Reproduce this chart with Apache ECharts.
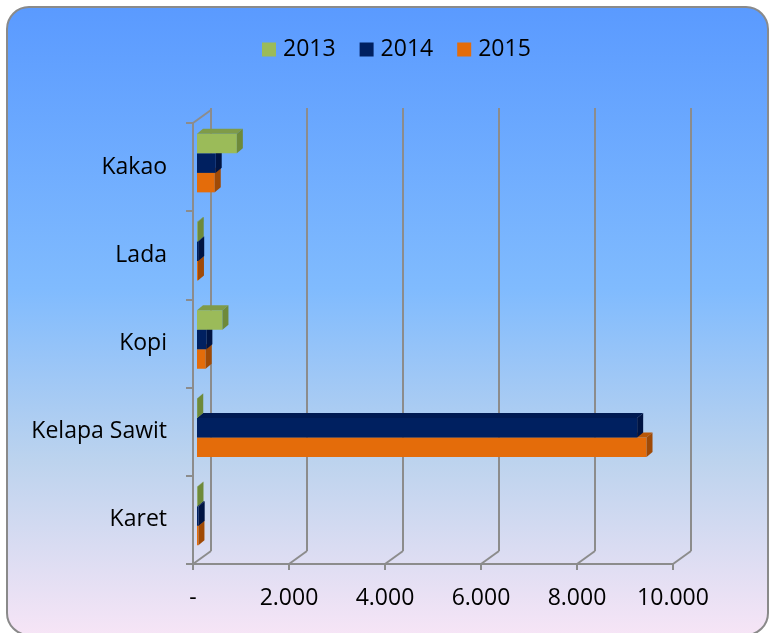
<!DOCTYPE html>
<html>
<head>
<meta charset="utf-8">
<script src="https://cdn.jsdelivr.net/npm/echarts@6/dist/echarts.min.js"></script>
<style>
html,body{margin:0;padding:0;background:#ffffff;}
#main{width:771px;height:633px;}
</style>
</head>
<body>
<div id="main"></div>
<script>
// ---- data ----
var categories = ['Kakao', 'Lada', 'Kopi', 'Kelapa Sawit', 'Karet'];
var years = ['2013', '2014', '2015'];
var values2013 = [830, 15, 530, 5, 10];
var values2014 = [390, 25, 195, 9170, 35];
var values2015 = [370, 20, 180, 9365, 30];
var xTickValues = [0, 2000, 4000, 6000, 8000, 10000];
var xTickLabels = ['-', '2.000', '4.000', '6.000', '8.000', '10.000'];

var FONT = 'Open Sans';
var FS = 23;
var GRID_COLOR = '#8c8c8c';
var WALL_DX = 18, WALL_DY = -13;   // back wall offset
var BAR_DX = 6, BAR_DY = 5;        // bar depth
var BAR_T = 19.5;                  // bar thickness
var BAR_X_OFF = 4, BAR_Y_OFF = -4;

var faceColors = [
  {front: '#9bbb59', top: '#7f9b48', side: '#6e8a3a'},
  {front: '#002060', top: '#001a52', side: '#001443'},
  {front: '#e46c0a', top: '#b85708', side: '#a04a06'}
];

var chart = echarts.init(document.getElementById('main'), null, {renderer: 'canvas'});

function wallRender(params, api) {
  var cs = params.coordSys;
  var xf = api.coord([api.value(0), 0])[0];
  var top = cs.y, bottom = cs.y + cs.height;
  var style = {stroke: GRID_COLOR, lineWidth: 2, fill: null};
  var children = [
    {type: 'line', shape: {x1: xf + WALL_DX, y1: top + WALL_DY - 2, x2: xf + WALL_DX, y2: bottom + WALL_DY}, style: style},
    {type: 'line', shape: {x1: xf, y1: bottom, x2: xf + WALL_DX, y2: bottom + WALL_DY}, style: style}
  ];
  if (api.value(0) === 0) {
    children.push({type: 'line', shape: {x1: xf, y1: top, x2: xf + WALL_DX, y2: top + WALL_DY}, style: style});
  }
  return {type: 'group', children: children};
}

function makeBarRender(si) {
  return function (params, api) {
    var v = api.value(0), c = api.value(1);
    var p0 = api.coord([0, c]);
    var p1 = api.coord([v, c]);
    var x0 = p0[0] + BAR_X_OFF;
    var x1 = p1[0] + BAR_X_OFF;
    var y0 = p0[1] - 1.5 * BAR_T + si * BAR_T + BAR_Y_OFF;
    var y1 = y0 + BAR_T;
    var col = faceColors[si];
    return {
      type: 'group',
      children: [
        {type: 'rect', shape: {x: x0, y: y0, width: Math.max(x1 - x0, 0.5), height: BAR_T}, style: {fill: col.front}},
        {type: 'polygon', shape: {points: [[x0, y0], [x0 + BAR_DX, y0 - BAR_DY], [x1 + BAR_DX, y0 - BAR_DY], [x1, y0]]}, style: {fill: col.top}},
        {type: 'polygon', shape: {points: [[x1, y0], [x1 + BAR_DX, y0 - BAR_DY], [x1 + BAR_DX, y1 - BAR_DY], [x1, y1]]}, style: {fill: col.side}}
      ]
    };
  };
}

var seriesValues = [values2013, values2014, values2015];
var series = [{
  type: 'custom',
  name: 'wall',
  renderItem: wallRender,
  data: xTickValues.map(function (v) { return [v, 0]; }),
  encode: {x: 0, y: 1},
  clip: false,
  silent: true,
  z: 1
}];
years.forEach(function (y, si) {
  series.push({
    type: 'custom',
    name: y,
    renderItem: makeBarRender(si),
    data: seriesValues[si].map(function (v, ci) { return [v, ci]; }),
    encode: {x: 0, y: 1},
    clip: false,
    itemStyle: {color: faceColors[si].front},
    z: 10 - si
  });
});

var option = {
  animation: false,
  backgroundColor: 'transparent',
  graphic: [{
    type: 'rect',
    z: -10,
    shape: {x: 7, y: 7, width: 761, height: 628, r: 22},
    style: {
      fill: new echarts.graphic.LinearGradient(0, 0, 0, 1, [
        {offset: 0, color: '#5a9aff'},
        {offset: 0.45, color: '#80bbfe'},
        {offset: 0.72, color: '#bcd3ee'},
        {offset: 1, color: '#f7e5f6'}
      ]),
      stroke: '#8a8a8a',
      lineWidth: 2
    }
  }],
  legend: {
    data: years,
    left: 262,
    top: 38,
    padding: 0,
    icon: 'rect',
    itemWidth: 14,
    itemHeight: 14,
    itemGap: 24,
    textStyle: {fontFamily: FONT, fontSize: FS, color: '#000', padding: [0, 0, 0, 2]}
  },
  grid: {left: 193, right: 98, top: 123, bottom: 69, containLabel: false, outerBoundsMode: 'none'},
  xAxis: {
    type: 'value',
    min: 0, max: 10000, interval: 2000,
    axisLine: {show: true, lineStyle: {color: GRID_COLOR, width: 2}},
    axisTick: {show: true, length: 6, lineStyle: {color: GRID_COLOR, width: 2}},
    splitLine: {show: false},
    axisLabel: {
      fontFamily: FONT, fontSize: FS, color: '#000', margin: 23,
      formatter: function (v) { var i = xTickValues.indexOf(v); return i >= 0 ? xTickLabels[i] : ''; }
    }
  },
  yAxis: {
    type: 'category',
    inverse: true,
    data: categories,
    axisLine: {show: true, lineStyle: {color: GRID_COLOR, width: 2}},
    axisTick: {show: true, length: 7, lineStyle: {color: GRID_COLOR, width: 2}},
    splitLine: {show: false},
    axisLabel: {fontFamily: FONT, fontSize: FS, color: '#000', margin: 26}
  },
  series: series
};
chart.setOption(option);
</script>
</body>
</html>
